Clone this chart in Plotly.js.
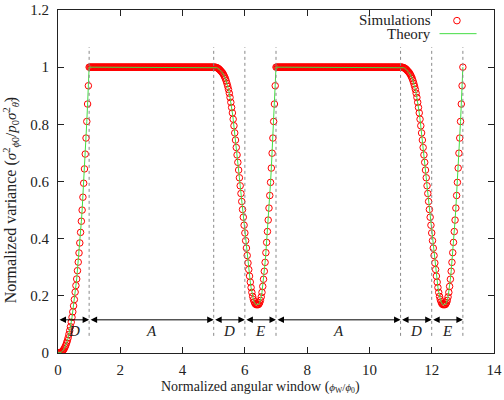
<!DOCTYPE html>
<html><head><meta charset="utf-8">
<script src="https://cdn.plot.ly/plotly-3.0.1.min.js"></script>
<style>html,body{margin:0;padding:0;background:#fff}#chart{width:504px;height:400px}</style>
</head><body><div id="chart"></div>
<script>
// ---- data ----
// Segment D (0..1): rise
const xRise1 = [0,0.025,0.05,0.075,0.1,0.125,0.15,0.175,0.2,0.225,0.25,0.275,0.3,0.325,0.35,0.375,0.4,0.425,0.45,0.475,0.5,0.525,0.55,0.575,0.6,0.625,0.65,0.675,0.7,0.725,0.75,0.775,0.8,0.825,0.85,0.875,0.9,0.925,0.95,0.975,1];
const yRise1 = [0,0.0001,0.0004,0.0012,0.0025,0.0045,0.007,0.011,0.015,0.021,0.027,0.035,0.043,0.053,0.065,0.078,0.092,0.108,0.125,0.144,0.165,0.187,0.213,0.236,0.259,0.288,0.318,0.35,0.385,0.422,0.461,0.5,0.545,0.594,0.644,0.696,0.752,0.81,0.871,0.935,1];
// Segment A (1..5): plateau
const xFlat1 = [1.025,1.05,1.075,1.1,1.125,1.15,1.175,1.2,1.225,1.25,1.275,1.3,1.325,1.35,1.375,1.4,1.425,1.45,1.475,1.5,1.525,1.55,1.575,1.6,1.625,1.65,1.675,1.7,1.725,1.75,1.775,1.8,1.825,1.85,1.875,1.9,1.925,1.95,1.975,2,
2.025,2.05,2.075,2.1,2.125,2.15,2.175,2.2,2.225,2.25,2.275,2.3,2.325,2.35,2.375,2.4,2.425,2.45,2.475,2.5,2.525,2.55,2.575,2.6,2.625,2.65,2.675,2.7,2.725,2.75,2.775,2.8,2.825,2.85,2.875,2.9,2.925,2.95,2.975,3,
3.025,3.05,3.075,3.1,3.125,3.15,3.175,3.2,3.225,3.25,3.275,3.3,3.325,3.35,3.375,3.4,3.425,3.45,3.475,3.5,3.525,3.55,3.575,3.6,3.625,3.65,3.675,3.7,3.725,3.75,3.775,3.8,3.825,3.85,3.875,3.9,3.925,3.95,3.975,4,
4.025,4.05,4.075,4.1,4.125,4.15,4.175,4.2,4.225,4.25,4.275,4.3,4.325,4.35,4.375,4.4,4.425,4.45,4.475,4.5,4.525,4.55,4.575,4.6,4.625,4.65,4.675,4.7,4.725,4.75,4.775,4.8,4.825,4.85,4.875,4.9,4.925,4.95,4.975];
const yFlat1 = [1,1,1,1,1,1,1,1,1,1,1,1,1,1,1,1,1,1,1,1,1,1,1,1,1,1,1,1,1,1,1,1,1,1,1,1,1,1,1,1,
1,1,1,1,1,1,1,1,1,1,1,1,1,1,1,1,1,1,1,1,1,1,1,1,1,1,1,1,1,1,1,1,1,1,1,1,1,1,1,1,
1,1,1,1,1,1,1,1,1,1,1,1,1,1,1,1,1,1,1,1,1,1,1,1,1,1,1,1,1,1,1,1,1,1,1,1,1,1,1,1,
1,1,1,1,1,1,1,1,1,1,1,1,1,1,1,1,1,1,1,1,1,1,1,1,1,1,1,1,1,1,1,1,1,1,1,1,1,1,1];
// Segments D,E (5..7): dip
const xDip1 = [5,5.025,5.05,5.075,5.1,5.125,5.15,5.175,5.2,5.225,5.25,5.275,5.3,5.325,5.35,5.375,5.4,5.425,5.45,5.475,5.5,5.525,5.55,5.575,5.6,5.625,5.65,5.675,5.7,5.725,5.75,5.775,5.8,5.825,5.85,5.875,5.9,5.925,5.95,5.975,6,
6.025,6.05,6.075,6.1,6.125,6.15,6.175,6.2,6.225,6.25,6.275,6.3,6.325,6.35,6.375,6.4,6.425,6.45,6.475,6.5,6.525,6.55,6.575,6.6,6.625,6.65,6.675,6.7,6.725,6.75,6.775,6.8,6.825,6.85,6.875,6.9,6.925,6.95,6.975,7];
const yDip1 = [1,1,1,0.999,0.998,0.997,0.995,0.993,0.99,0.987,0.984,0.981,0.977,0.972,0.966,0.96,0.952,0.943,0.933,0.922,0.909,0.894,0.877,0.859,0.84,0.818,0.795,0.77,0.745,0.719,0.693,0.667,0.64,0.613,0.585,0.558,0.53,0.502,0.475,0.447,0.42,
0.393,0.367,0.341,0.315,0.292,0.269,0.248,0.229,0.212,0.198,0.187,0.179,0.173,0.17,0.169,0.17,0.169,0.171,0.176,0.184,0.196,0.212,0.233,0.258,0.286,0.317,0.351,0.387,0.425,0.465,0.507,0.551,0.597,0.647,0.699,0.752,0.81,0.871,0.935,1];
// Segment A (7..11): plateau
const xFlat2 = [7.025,7.05,7.075,7.1,7.125,7.15,7.175,7.2,7.225,7.25,7.275,7.3,7.325,7.35,7.375,7.4,7.425,7.45,7.475,7.5,7.525,7.55,7.575,7.6,7.625,7.65,7.675,7.7,7.725,7.75,7.775,7.8,7.825,7.85,7.875,7.9,7.925,7.95,7.975,8,
8.025,8.05,8.075,8.1,8.125,8.15,8.175,8.2,8.225,8.25,8.275,8.3,8.325,8.35,8.375,8.4,8.425,8.45,8.475,8.5,8.525,8.55,8.575,8.6,8.625,8.65,8.675,8.7,8.725,8.75,8.775,8.8,8.825,8.85,8.875,8.9,8.925,8.95,8.975,9,
9.025,9.05,9.075,9.1,9.125,9.15,9.175,9.2,9.225,9.25,9.275,9.3,9.325,9.35,9.375,9.4,9.425,9.45,9.475,9.5,9.525,9.55,9.575,9.6,9.625,9.65,9.675,9.7,9.725,9.75,9.775,9.8,9.825,9.85,9.875,9.9,9.925,9.95,9.975,10,
10.025,10.05,10.075,10.1,10.125,10.15,10.175,10.2,10.225,10.25,10.275,10.3,10.325,10.35,10.375,10.4,10.425,10.45,10.475,10.5,10.525,10.55,10.575,10.6,10.625,10.65,10.675,10.7,10.725,10.75,10.775,10.8,10.825,10.85,10.875,10.9,10.925,10.95,10.975];
const yFlat2 = [1,1,1,1,1,1,1,1,1,1,1,1,1,1,1,1,1,1,1,1,1,1,1,1,1,1,1,1,1,1,1,1,1,1,1,1,1,1,1,1,
1,1,1,1,1,1,1,1,1,1,1,1,1,1,1,1,1,1,1,1,1,1,1,1,1,1,1,1,1,1,1,1,1,1,1,1,1,1,1,1,
1,1,1,1,1,1,1,1,1,1,1,1,1,1,1,1,1,1,1,1,1,1,1,1,1,1,1,1,1,1,1,1,1,1,1,1,1,1,1,1,
1,1,1,1,1,1,1,1,1,1,1,1,1,1,1,1,1,1,1,1,1,1,1,1,1,1,1,1,1,1,1,1,1,1,1,1,1,1,1];
// Segments D,E (11..13): dip
const xDip2 = [11,11.025,11.05,11.075,11.1,11.125,11.15,11.175,11.2,11.225,11.25,11.275,11.3,11.325,11.35,11.375,11.4,11.425,11.45,11.475,11.5,11.525,11.55,11.575,11.6,11.625,11.65,11.675,11.7,11.725,11.75,11.775,11.8,11.825,11.85,11.875,11.9,11.925,11.95,11.975,12,
12.025,12.05,12.075,12.1,12.125,12.15,12.175,12.2,12.225,12.25,12.275,12.3,12.325,12.35,12.375,12.4,12.425,12.45,12.475,12.5,12.525,12.55,12.575,12.6,12.625,12.65,12.675,12.7,12.725,12.75,12.775,12.8,12.825,12.85,12.875,12.9,12.925,12.95,12.975,13];
const yDip2 = [1,1,1,0.999,0.998,0.997,0.995,0.993,0.99,0.987,0.984,0.981,0.977,0.972,0.966,0.96,0.952,0.943,0.933,0.922,0.909,0.894,0.877,0.859,0.84,0.818,0.795,0.77,0.745,0.719,0.693,0.667,0.64,0.613,0.585,0.558,0.53,0.502,0.475,0.447,0.42,
0.393,0.367,0.341,0.315,0.292,0.269,0.248,0.229,0.212,0.198,0.187,0.179,0.173,0.17,0.169,0.17,0.169,0.171,0.176,0.184,0.196,0.212,0.233,0.258,0.286,0.317,0.351,0.387,0.425,0.465,0.507,0.551,0.597,0.647,0.699,0.752,0.81,0.871,0.935,1];

// region boundaries and labels
const boundaries = [1, 5, 6, 7, 11, 12, 13];
const regionStart = [0, 1, 5, 6, 7, 11, 12];
const regionEnd   = [1, 5, 6, 7, 11, 12, 13];
const regionLabel = ['D', 'A', 'D', 'E', 'A', 'D', 'E'];
const xTicks = [0, 2, 4, 6, 8, 10, 12, 14];
const yTicks = [0, 0.2, 0.4, 0.6, 0.8, 1, 1.2];
const seriesNames = ['Simulations', 'Theory'];
const xTitle = 'Normalized angular window (<span style="font-size:11px"><i>ϕ</i><sub>W</sub>/<i>ϕ</i><sub>0</sub></span>)';
const yTitle = 'Normalized variance (<span style="font-size:15px"><i>σ</i><sup>2</sup><sub><i>ϕ</i>0</sub>/<i>p</i><sub>0</sub><i>σ</i><sup>2</sup><sub><i>θ̃</i></sub></span>)';

// ---- build ----
function zipSeg(xs, ys) { const n = Math.min(xs.length, ys.length); return [xs.slice(0, n), ys.slice(0, n)]; }
const segs = [[xRise1, yRise1], [xFlat1, yFlat1], [xDip1, yDip1], [xFlat2, yFlat2], [xDip2, yDip2]].map(s => zipSeg(s[0], s[1]));
const X = [].concat(...segs.map(s => s[0]));
const Y = [].concat(...segs.map(s => s[1]));

const serif = '"Liberation Serif", "Times New Roman", "DejaVu Serif", serif';
const txt = '#222';
const arrowY = 0.116, labelY = 0.078;
const green = '#44dd44';

const traces = [
  { x: X, y: Y, name: seriesNames[0], type: 'scatter', mode: 'markers',
    marker: { symbol: 'circle-open', size: 6.5, color: '#ff0000', line: { width: 1, color: '#ff0000' } },
    showlegend: false, hoverinfo: 'skip' },
  { x: X, y: Y, name: seriesNames[1], type: 'scatter', mode: 'lines',
    line: { color: green, width: 1 }, showlegend: false, hoverinfo: 'skip' }
];

const shapes = boundaries.map(b => ({ type: 'line', xref: 'x', yref: 'y', x0: b, x1: b, y0: 0.06, y1: 1.07,
  line: { color: '#888', width: 1, dash: 'dot' }, layer: 'above' }));

const annotations = [];
regionStart.forEach((a, i) => {
  const b = regionEnd[i];
  annotations.push({ x: b, y: arrowY, ax: a, ay: arrowY, xref: 'x', yref: 'y', axref: 'x', ayref: 'y',
    text: '', showarrow: true, arrowside: 'end+start', arrowhead: 2, startarrowhead: 2,
    arrowsize: 1.3, startarrowsize: 1.3, arrowwidth: 1, arrowcolor: '#000' });
  annotations.push({ x: (a + b) / 2, y: labelY, xref: 'x', yref: 'y', text: '<i>' + regionLabel[i] + '</i>',
    showarrow: false, font: { family: serif, size: 15, color: txt } });
});
// legend (gnuplot style: text left of sample)
annotations.push({ xref: 'paper', yref: 'paper', x: 0.861, y: 0.971, xanchor: 'right', yanchor: 'middle',
  text: seriesNames[0], showarrow: false, font: { family: serif, size: 15, color: txt } });
annotations.push({ xref: 'paper', yref: 'paper', x: 0.861, y: 0.931, xanchor: 'right', yanchor: 'middle',
  text: seriesNames[1], showarrow: false, font: { family: serif, size: 15, color: txt } });
shapes.push({ type: 'circle', xref: 'paper', yref: 'paper', xsizemode: 'pixel', ysizemode: 'pixel',
  xanchor: 0.915, yanchor: 0.969, x0: -3.3, x1: 3.3, y0: -3.3, y1: 3.3, line: { color: '#ff0000', width: 1 } });
shapes.push({ type: 'line', xref: 'paper', yref: 'paper', x0: 0.875, x1: 0.960, y0: 0.931, y1: 0.931,
  line: { color: green, width: 1 } });
// axis titles (placed as in the reference)
annotations.push({ xref: 'paper', yref: 'paper', x: 0.465, y: -0.098, xanchor: 'center', yanchor: 'middle',
  text: xTitle, showarrow: false, font: { family: serif, size: 14, color: txt } });
annotations.push({ xref: 'paper', yref: 'paper', x: -0.108, y: 0.445, xanchor: 'center', yanchor: 'middle',
  textangle: -90, text: yTitle, showarrow: false, font: { family: serif, size: 16, color: txt } });

const axisCommon = { showgrid: false, zeroline: false, showline: true, linecolor: '#222', linewidth: 1,
  mirror: 'ticks', ticks: 'inside', ticklen: 6, tickcolor: '#222', tickwidth: 1,
  tickfont: { family: serif, size: 15, color: txt } };

const layout = {
  width: 504, height: 400, paper_bgcolor: '#fff', plot_bgcolor: '#fff',
  margin: { l: 58, r: 10, t: 10, b: 47 },
  font: { family: serif, color: txt },
  xaxis: Object.assign({}, axisCommon, { range: [0, 14], tickvals: xTicks, ticktext: xTicks.map(String),
    ticklabelstandoff: 3 }),
  yaxis: Object.assign({}, axisCommon, { range: [0, 1.2], tickvals: yTicks, ticktext: yTicks.map(String),
    ticklabelstandoff: 5 }),
  shapes: shapes, annotations: annotations, showlegend: false
};

Plotly.newPlot('chart', traces, layout, { displayModeBar: false, staticPlot: true });
</script>
</body></html>
